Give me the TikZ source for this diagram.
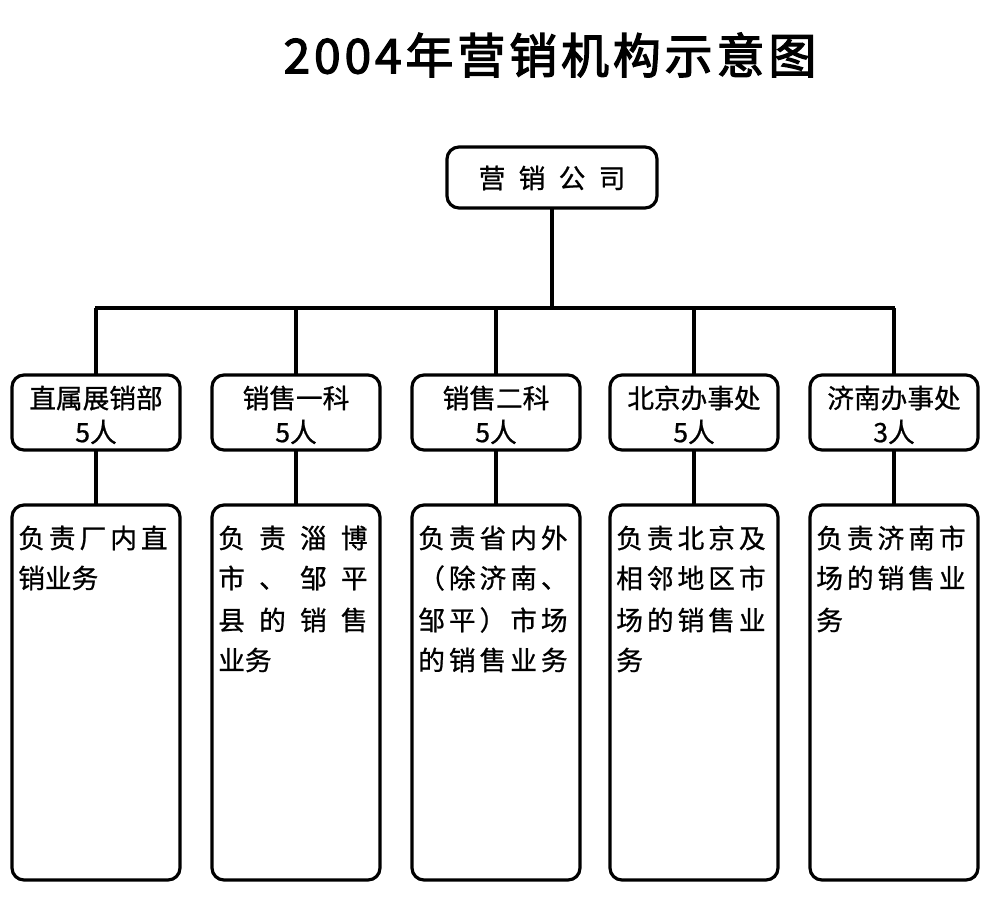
\documentclass[tikz,border=0pt]{standalone}
\usepackage{fontspec}
\setmainfont{Noto Sans CJK SC}[FakeBold=0.8]
\newfontfamily\cjkb{Noto Sans CJK SC}[FakeBold=2.5,LetterSpace=8]
\begin{document}
\begin{tikzpicture}[x=0.75pt,y=-0.75pt,
  box/.style={draw,line width=2.4pt,rounded corners=9pt},
  ln/.style={line width=2.4pt},
  t/.style={inner sep=0pt,font=\fontsize{20}{22}\selectfont},
  l/.style={inner sep=0pt,anchor=west,font=\fontsize{20}{22}\selectfont}]
\useasboundingbox (0,0) rectangle (1003,911);
\node[inner sep=0pt,font=\cjkb\fontsize{36}{40}\selectfont] (title) at (550,55) {2004年营销机构示意图};
\draw[box] (447,147) rectangle (657,208);
\node[t] (top) at (552,178) {营\hspace{0.5em}销\hspace{0.5em}公\hspace{0.5em}司};
\coordinate (tb) at (552,208);
\coordinate (hb) at (552,308);
\draw[ln] (tb) -- (hb);
\draw[ln] (95,308) -- (895,308);
\foreach \x/\a/\b/\n in {12/直属展销部/5人/a,212/销售一科/5人/b,412/销售二科/5人/c,610/北京办事处/5人/d,810/济南办事处/3人/e}{
  \pgfmathsetmacro\c{\x+84}
  \draw[box] (\x,375) rectangle (\x+168,450);
  \draw[box] (\x,505) rectangle (\x+168,880);
  \draw[ln] (\c,308) -- (\c,375);
  \draw[ln] (\c,450) -- (\c,505);
  \node[t] (\n1) at (\c,398) {\a};
  \node[t] (\n2) at (\c,432) {\b};
}
\def\sp#1{\makebox[112pt][s]{#1}}
\node[l] (a1) at (18,538) {\sp{负\hfill 责\hfill 厂\hfill 内\hfill 直}};
\node[l] (a2) at (18,578) {销业务};
\node[l] (b1) at (218,538) {\sp{负\hfill 责\hfill 淄\hfill 博}};
\node[l] (b2) at (218,578) {\sp{市\hfill 、\hfill 邹\hfill 平}};
\node[l] (b3) at (218,620) {\sp{县\hfill 的\hfill 销\hfill 售}};
\node[l] (b4) at (218,660) {业务};
\node[l] (c1) at (418,538) {\sp{负\hfill 责\hfill 省\hfill 内\hfill 外}};
\node[l] (c2) at (418,578) {\sp{（\hfill 除\hfill 济\hfill 南\hfill 、}};
\node[l] (c3) at (418,620) {\sp{邹\hfill 平\hfill ）\hfill 市\hfill 场}};
\node[l] (c4) at (418,660) {\sp{的\hfill 销\hfill 售\hfill 业\hfill 务}};
\node[l] (d1) at (616,538) {\sp{负\hfill 责\hfill 北\hfill 京\hfill 及}};
\node[l] (d2) at (616,578) {\sp{相\hfill 邻\hfill 地\hfill 区\hfill 市}};
\node[l] (d3) at (616,620) {\sp{场\hfill 的\hfill 销\hfill 售\hfill 业}};
\node[l] (d4) at (616,660) {务};
\node[l] (e1) at (816,538) {\sp{负\hfill 责\hfill 济\hfill 南\hfill 市}};
\node[l] (e2) at (816,578) {\sp{场\hfill 的\hfill 销\hfill 售\hfill 业}};
\node[l] (e3) at (816,620) {务};
\end{tikzpicture}
\end{document}
